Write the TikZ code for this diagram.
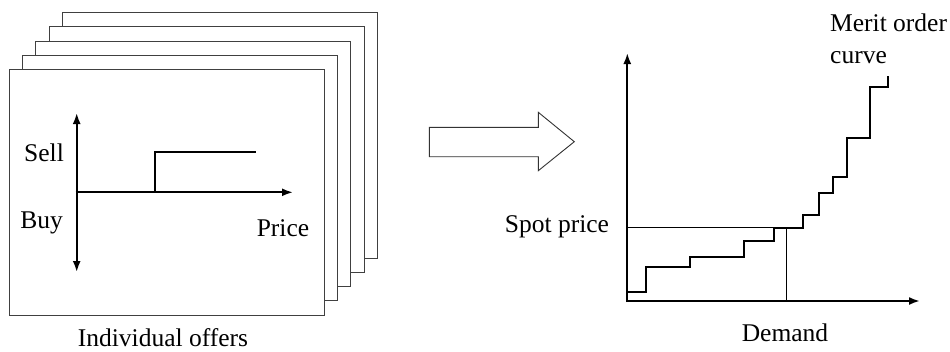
\documentclass[tikz,border=0pt]{standalone}
\usepackage{fontspec}
\setmainfont{Liberation Serif}
\usetikzlibrary{arrows.meta}
\begin{document}
\begin{tikzpicture}[x=1pt,y=-1pt,
  page/.style={draw=black!75,line width=0.9pt,fill=white},
  axis/.style={line width=2pt,-{Latex[length=11pt,width=8pt]}},
  dblaxis/.style={line width=2pt,{Latex[length=11pt,width=8pt]}-{Latex[length=11pt,width=8pt]}},
  curve/.style={line width=2.2pt,line join=miter},
  thin/.style={line width=0.8pt},
  lbl/.style={font=\fontsize{25.5}{31.6}\selectfont,inner sep=0pt}]
\useasboundingbox (0,0) rectangle (950,351);
% stacked pages
\foreach \i in {4,3,2,1,0}{
  \draw[page] (9.3+13.3*\i,69.3-14.15*\i) rectangle (324+13.35*\i,315-14.2*\i);
}
% individual offer axes
\coordinate (vt) at (76.7,113);
\coordinate (vb) at (76.7,272);
\coordinate (ho) at (75.7,192.3);
\coordinate (he) at (293,192.3);
\draw[dblaxis] (vb) -- (vt);
\draw[axis] (ho) -- (he);
\coordinate (s0) at (155,192.3);
\draw[curve] (s0) |- (256,151.7);
\node[lbl] (sell) at (44,153) {Sell};
\node[lbl] (buy) at (41.7,223) {Buy};
\node[lbl] (price) at (283,228) {Price};
\node[lbl,anchor=base] (indiv) at (163,346) {Individual offers};
% big arrow
\draw[draw=black!80,line width=0.9pt,fill=white]
  (429.3,127.3) -- (538.3,127.3) -- (538.3,112.3) -- (574.3,141.7)
  -- (538.3,170.7) -- (538.3,156.7) -- (429.3,156.7) -- cycle;
% merit order chart
\coordinate (o) at (627.3,301);
\coordinate (yt) at (627.3,53);
\coordinate (xe) at (920,301);
\draw[line width=2pt,-{Latex[length=11pt,width=8pt]}] (627.3,302) -- (yt);
\draw[line width=2pt,-{Latex[length=11pt,width=8pt]}] (626.3,301) -- (xe);
\coordinate (sp) at (627.3,227.7);
\coordinate (eq) at (786.7,227.7);
\draw[thin] (sp) -- (774,227.7);
\draw[thin] (786.7,227.7) -- (786.7,301);
\draw[curve] (627.3,291.7) -| (645.7,267.3) -| (690,256.7) -| (744.3,240.7)
  -| (774,227.7) -| (803.3,215) -| (819,192.7) -| (833.3,176.7)
  -| (847.3,137.7) -| (870,86.7) -| (888.3,76);
\node[lbl] (spot) at (557,227) {Spot price};
\node[lbl] (demand) at (785,333) {Demand};
\node[lbl,anchor=base west] (merit1) at (830,31.7) {Merit order};
\node[lbl,anchor=base west] (merit2) at (830,63.3) {curve};
\end{tikzpicture}
\end{document}
